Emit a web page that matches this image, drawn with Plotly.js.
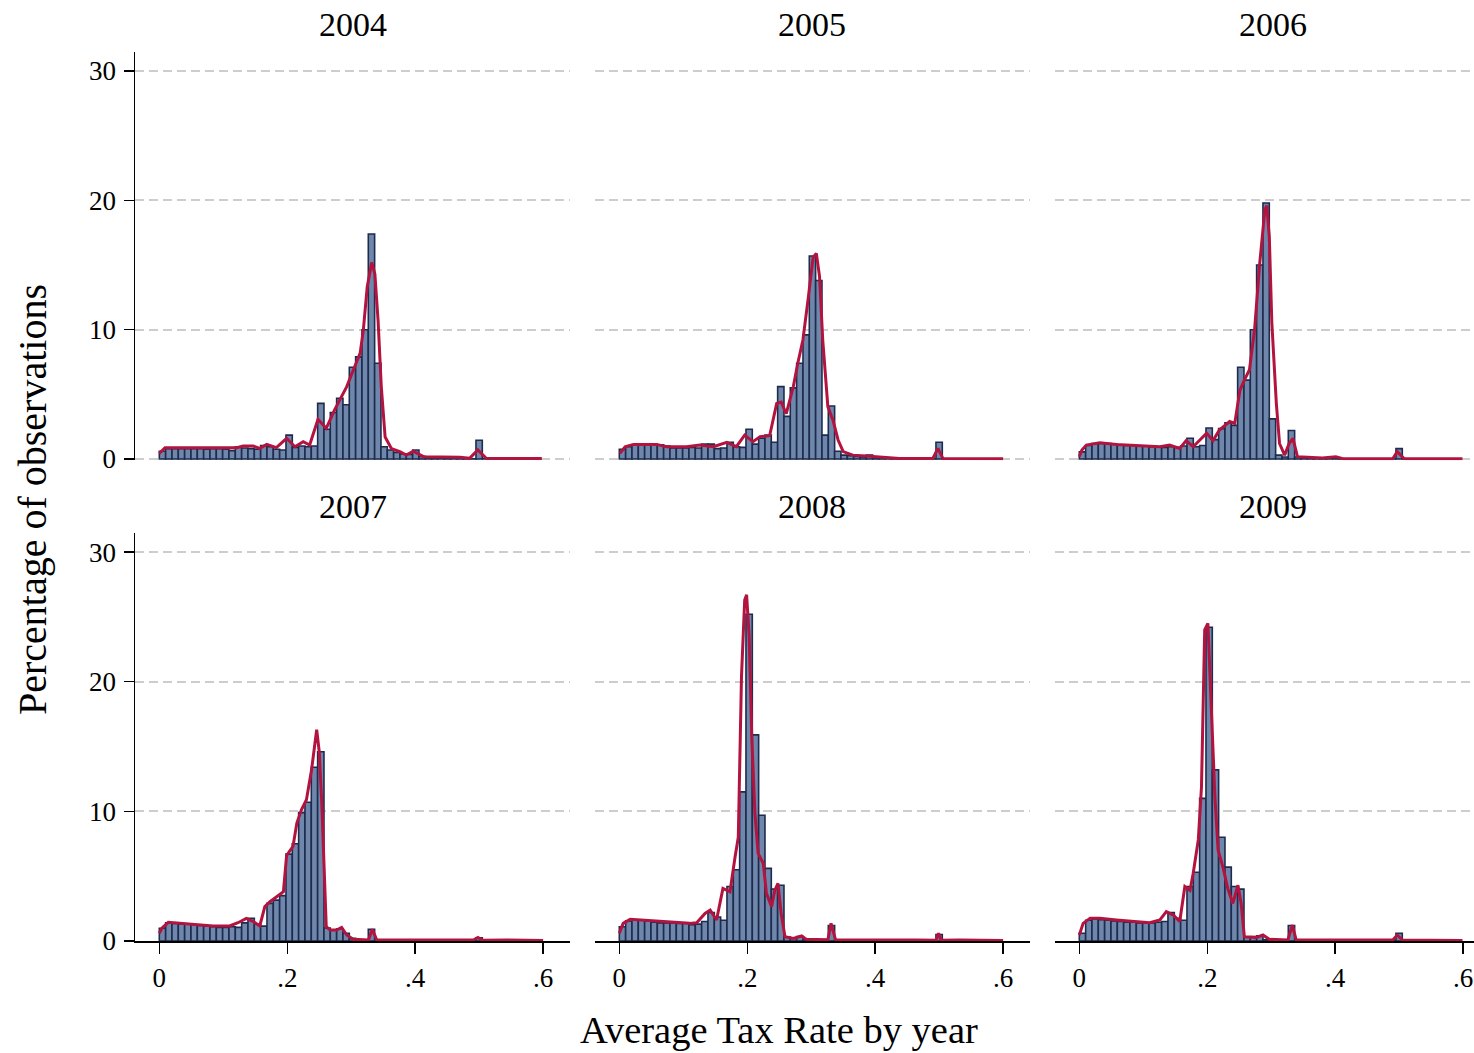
<!DOCTYPE html>
<html>
<head>
<meta charset="utf-8">
<script src="https://cdn.plot.ly/plotly-3.0.1.min.js"></script>
<style>
  html, body { margin: 0; padding: 0; background: #ffffff; }
  #chart { width: 1474px; height: 1053px; }
</style>
</head>
<body>
<div id="chart"></div>
<script>
// Histogram of the average tax rate, one panel per year.
// 60 equal bins starting at 0; bar heights are percent of observations.
const years = ["2004", "2005", "2006", "2007", "2008", "2009"];
const binStart = 0;
const binWidth = 0.0099;

const pct2004 = [0.6,0.8,0.8,0.8,0.8,0.8,0.8,0.75,0.8,0.8,
  0.75,0.65,0.95,0.85,0.8,0.75,1.05,0.95,0.75,0.7,
  1.85,0.9,1.0,0.95,1.0,4.3,2.3,3.6,4.7,4.2,
  7.1,7.9,10.0,17.4,7.4,0.95,0.7,0.5,0.4,0.35,
  0.7,0.2,0.1,0.05,0.05,0.05,0.05,0.05,0.02,0.02,
  1.45,0.02,0.02,0.02,0.02,0.01,0.01,0.01,0.01,0.01];
const pct2005 = [0.75,0.95,1.1,1.15,1.15,1.15,1.1,1.0,0.85,0.85,
  0.85,0.9,0.85,1.15,1.15,0.8,0.85,1.3,0.95,0.9,
  2.3,1.15,1.6,1.85,1.3,5.6,3.3,5.5,7.4,9.6,
  15.7,13.8,1.85,4.1,0.6,0.3,0.25,0.2,0.15,0.3,
  0.1,0.1,0.05,0.05,0.02,0.02,0.02,0.02,0.02,0.02,
  1.3,0.02,0.02,0.02,0.02,0.02,0.02,0.02,0.02,0.02];
const pct2006 = [0.55,1.05,1.2,1.2,1.2,1.15,1.1,1.05,1.05,1.0,
  1.0,0.95,0.95,0.9,0.95,0.9,1.0,1.6,0.95,1.05,
  2.4,1.5,2.35,2.8,2.6,7.1,6.1,10.0,15.0,19.8,
  3.1,0.3,0.15,2.2,0.15,0.02,0.02,0.05,0.1,0.05,
  0.01,0.01,0.01,0.01,0.01,0.01,0.01,0.01,0.01,0.01,
  0.8,0.01,0.01,0.01,0.01,0.01,0.01,0.01,0.01,0.01];
const pct2007 = [0.98,1.4,1.35,1.3,1.3,1.25,1.2,1.15,1.1,1.05,
  1.05,1.1,1.05,1.4,1.75,1.3,1.15,2.9,3.15,3.5,
  6.7,7.5,9.9,10.7,13.4,14.6,1.0,0.85,0.95,0.6,
  0.2,0.08,0.05,0.9,0.05,0.03,0.03,0.03,0.03,0.03,
  0.03,0.03,0.03,0.03,0.03,0.03,0.03,0.03,0.03,0.03,
  0.25,0.03,0.03,0.05,0.05,0.05,0.02,0.02,0.02,0.02];
const pct2008 = [1.1,1.55,1.6,1.6,1.55,1.45,1.4,1.4,1.4,1.35,
  1.35,1.25,1.3,1.5,2.2,1.85,1.6,4.2,5.5,11.5,
  25.2,15.9,9.7,5.6,4.0,4.3,0.3,0.25,0.35,0.1,
  0.05,0.05,0.05,1.2,0.05,0.03,0.03,0.03,0.03,0.03,
  0.03,0.03,0.03,0.03,0.03,0.03,0.03,0.03,0.03,0.03,
  0.5,0.02,0.02,0.02,0.02,0.02,0.02,0.02,0.02,0.02];
const pct2009 = [0.6,1.6,1.7,1.65,1.6,1.55,1.5,1.45,1.45,1.4,
  1.4,1.4,1.45,1.5,2.2,1.75,1.6,4.2,5.3,11.0,
  24.2,13.2,8.0,5.7,4.2,4.0,0.3,0.3,0.4,0.1,
  0.05,0.05,0.05,1.2,0.05,0.03,0.03,0.03,0.03,0.03,
  0.03,0.03,0.03,0.03,0.03,0.03,0.03,0.03,0.03,0.03,
  0.6,0.02,0.02,0.02,0.02,0.02,0.02,0.02,0.02,0.02];

// Smoothed density overlay (percent scale), tax rate vs. value
const densX2004 = [0,0.009,0.121,0.131,0.147,0.157,0.168,0.183,0.199,0.212,0.225,0.235,0.248,0.261,0.274,0.293,0.314,0.319,0.325,0.332,0.337,0.342,0.347,0.353,0.363,0.376,0.386,0.397,0.413,0.47,0.485,0.498,0.511,0.598];
const densY2004 = [0.44,0.88,0.88,1.0,1.0,0.82,1.13,0.88,1.6,0.95,1.34,1.08,3.07,2.37,3.8,5.6,8.2,10.0,13.3,15.2,14.3,10.7,5.6,1.7,0.8,0.57,0.3,0.6,0.18,0.13,0.05,0.7,0.05,0.03];
const densX2005 = [0.001,0.009,0.022,0.058,0.074,0.105,0.126,0.147,0.168,0.183,0.196,0.209,0.22,0.235,0.246,0.253,0.261,0.272,0.279,0.287,0.295,0.303,0.308,0.313,0.318,0.326,0.334,0.342,0.35,0.365,0.386,0.407,0.438,0.49,0.498,0.506,0.6];
const densY2005 = [0.44,0.95,1.13,1.13,0.95,0.95,1.08,0.95,1.29,0.95,1.85,1.34,1.73,1.8,4.3,4.4,3.5,5.6,7.4,9.2,12.3,15.6,15.9,14.1,9.2,4.05,3.0,1.47,0.57,0.3,0.23,0.13,0.03,0.03,0.82,0.03,0.02];
const densX2006 = [0,0.004,0.011,0.032,0.058,0.089,0.126,0.141,0.157,0.167,0.178,0.199,0.209,0.219,0.235,0.243,0.251,0.258,0.266,0.274,0.282,0.29,0.293,0.297,0.301,0.308,0.313,0.321,0.328,0.334,0.341,0.38,0.401,0.412,0.49,0.497,0.508,0.599];
const densY2006 = [0.18,0.7,1.08,1.26,1.13,1.03,0.95,1.08,0.82,1.42,0.95,2.0,1.42,2.24,2.9,2.75,5.3,6.1,6.9,10.0,15.1,19.25,19.6,17.2,10.5,4.3,1.2,0.3,1.2,1.6,0.18,0.08,0.18,0.02,0.02,0.57,0.02,0.02];
const densX2007 = [0,0.004,0.014,0.032,0.058,0.084,0.11,0.123,0.136,0.147,0.157,0.165,0.173,0.183,0.194,0.199,0.209,0.215,0.222,0.23,0.238,0.246,0.25,0.254,0.261,0.267,0.277,0.285,0.293,0.303,0.327,0.333,0.34,0.491,0.498,0.506,0.543,0.6];
const densY2007 = [0.6,0.98,1.44,1.36,1.29,1.16,1.16,1.41,1.75,1.5,1.16,2.65,3.03,3.4,3.8,6.6,7.3,9.1,10.1,10.9,13.2,16.3,14.6,10.6,1.1,0.85,0.85,1.05,0.46,0.13,0.08,0.9,0.08,0.08,0.28,0.05,0.08,0.03];
const densX2008 = [0,0.006,0.017,0.032,0.058,0.084,0.11,0.121,0.134,0.142,0.152,0.162,0.173,0.181,0.186,0.191,0.196,0.199,0.203,0.207,0.212,0.217,0.225,0.23,0.238,0.243,0.248,0.253,0.259,0.272,0.285,0.292,0.318,0.326,0.331,0.338,0.464,0.495,0.499,0.503,0.532,0.571,0.6];
const densY2008 = [0.6,1.36,1.67,1.62,1.49,1.41,1.36,1.41,2.13,2.39,1.62,4.06,3.8,6.5,8.0,20.4,26.3,26.7,23.5,15.8,9.85,6.76,6.0,3.68,2.65,3.9,4.45,2.13,0.33,0.2,0.39,0.13,0.08,0.1,1.36,0.1,0.08,0.05,0.6,0.05,0.08,0.08,0.03];
const densX2009 = [0,0.006,0.017,0.032,0.058,0.084,0.11,0.126,0.136,0.147,0.157,0.165,0.173,0.178,0.186,0.191,0.196,0.201,0.206,0.212,0.217,0.225,0.232,0.24,0.248,0.253,0.258,0.277,0.287,0.297,0.326,0.333,0.339,0.49,0.497,0.505,0.547,0.599];
const densY2009 = [0.46,1.36,1.75,1.75,1.62,1.5,1.41,1.62,2.26,2.0,1.5,4.2,3.9,5.2,7.8,11.9,24.0,24.5,17.8,11.1,7.0,5.6,4.06,2.9,4.3,2.9,0.33,0.28,0.46,0.13,0.08,1.23,0.08,0.08,0.46,0.08,0.05,0.03];

const yTickVals = [0, 10, 20, 30];
const xTickVals = [0, 0.2, 0.4, 0.6];
const xTickText = ["0", ".2", ".4", ".6"];
const xAxisTitle = "Average Tax Rate by year";
const yAxisTitle = "Percentage of observations";

const pctByYear = [pct2004, pct2005, pct2006, pct2007, pct2008, pct2009];
const densXByYear = [densX2004, densX2005, densX2006, densX2007, densX2008, densX2009];
const densYByYear = [densY2004, densY2005, densY2006, densY2007, densY2008, densY2009];

// ---- page geometry (pixels) ----
const W = 1474, H = 1053;
const colPx = [[135, 570], [595, 1030], [1055, 1474]];
const rowPx = [[52, 460.3], [533, 941]];
const FONT = "Liberation Serif, Times New Roman, serif";
const BAR_FILL = "#6f87ab";
const BAR_EDGE = "#1d2b4e";
const DENS_COLOR = "#b3143f";
const GRID = "#cdcdcd";

const binCenters = pctByYear[0].map((_, i) => binStart + (i + 0.5) * binWidth);

const traces = [];
const layout = {
  width: W, height: H,
  margin: {l: 0, r: 0, t: 0, b: 0},
  paper_bgcolor: "#ffffff",
  plot_bgcolor: "#ffffff",
  showlegend: false,
  font: {family: FONT, color: "#000000"},
  annotations: []
};

years.forEach((yr, i) => {
  const row = Math.floor(i / 3), col = i % 3;
  const n = i + 1;
  const xa = "x" + (n === 1 ? "" : n), ya = "y" + (n === 1 ? "" : n);
  const xKey = "xaxis" + (n === 1 ? "" : n), yKey = "yaxis" + (n === 1 ? "" : n);

  traces.push({
    type: "bar", x: binCenters, y: pctByYear[i], width: binWidth,
    xaxis: xa, yaxis: ya,
    marker: {color: BAR_FILL, line: {color: BAR_EDGE, width: 1.6}},
    hoverinfo: "skip"
  });
  traces.push({
    type: "scatter", mode: "lines", x: densXByYear[i], y: densYByYear[i],
    xaxis: xa, yaxis: ya,
    line: {color: DENS_COLOR, width: 3},
    hoverinfo: "skip"
  });

  const [x0, x1] = colPx[col];
  const [y0, y1] = rowPx[row];
  const xMaxVal = col === 2 ? 0.617 : 0.642;
  const bottom = row === 1;

  layout[xKey] = {
    domain: [x0 / W, x1 / W],
    anchor: ya,
    range: [-0.038, xMaxVal],
    showgrid: false, zeroline: false,
    showline: bottom, linecolor: "#000000", linewidth: 1.5,
    ticks: bottom ? "outside" : "", ticklen: 11, tickwidth: 1.5, tickcolor: "#000000",
    tickmode: "array", tickvals: xTickVals, ticktext: xTickText,
    showticklabels: bottom,
    tickfont: {family: FONT, size: 27, color: "#000000"},
    ticklabelstandoff: 1
  };
  const leftCol = col === 0;
  layout[yKey] = {
    domain: [1 - y1 / H, 1 - y0 / H],
    anchor: xa,
    range: [row === 0 ? -0.1 : 0, 31.47],
    showgrid: true, gridcolor: GRID, gridwidth: 2, griddash: "9px,5px",
    zeroline: false,
    showline: leftCol, linecolor: "#000000", linewidth: 1.5,
    ticks: leftCol ? "outside" : "", ticklen: 10, tickwidth: 1.5, tickcolor: "#000000",
    tickmode: "array", tickvals: yTickVals,
    showticklabels: leftCol,
    tickfont: {family: FONT, size: 27, color: "#000000"},
    ticklabelstandoff: 2
  };

  layout.annotations.push({
    text: yr, xref: "paper", yref: "paper",
    x: ((x0 + Math.min(x1, 1490)) / 2 + (col === 2 ? 8 : 0)) / W,
    y: 1 - (row === 0 ? 25 : 507) / H,
    xanchor: "center", yanchor: "middle", showarrow: false,
    font: {family: FONT, size: 34, color: "#000000"}
  });
});

layout.annotations.push({
  text: xAxisTitle, xref: "paper", yref: "paper",
  x: 779 / W, y: 1 - 1030 / H, xanchor: "center", yanchor: "middle",
  showarrow: false, font: {family: FONT, size: 38.5, color: "#000000"}
});
layout.annotations.push({
  text: yAxisTitle, xref: "paper", yref: "paper",
  x: 32 / W, y: 1 - 500 / H, xanchor: "center", yanchor: "middle",
  textangle: -90, showarrow: false, font: {family: FONT, size: 40, color: "#000000"}
});

Plotly.newPlot("chart", traces, layout, {staticPlot: true, displayModeBar: false});
</script>
</body>
</html>
